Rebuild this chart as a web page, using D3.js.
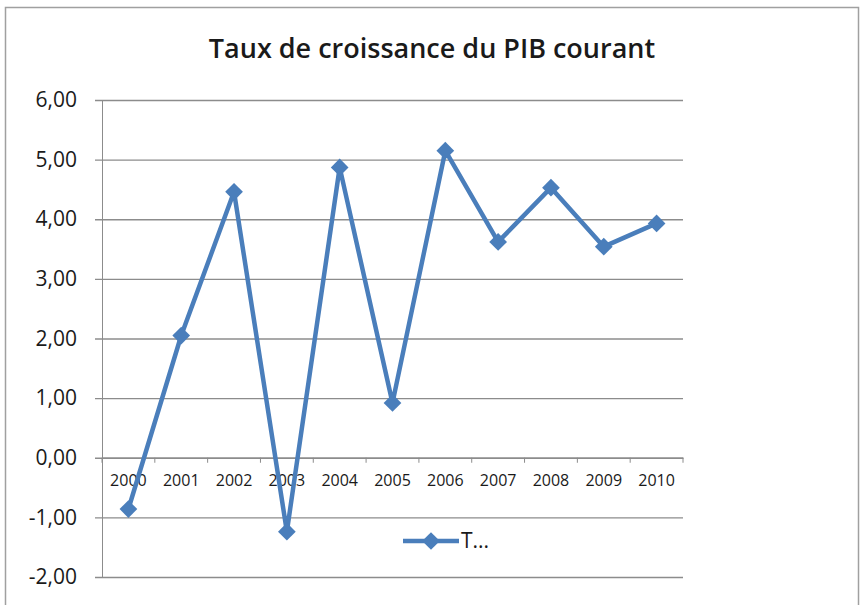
<!DOCTYPE html>
<html>
<head>
<meta charset="utf-8">
<script src="https://cdn.jsdelivr.net/npm/d3@7"></script>
<style>
  body { margin: 0; background: #fff; }
  text { font-family: "Open Sans", sans-serif; fill: #1a1a1a; }
</style>
</head>
<body>
<svg></svg>
<script>
var years = ['2000', '2001', '2002', '2003', '2004', '2005', '2006', '2007', '2008', '2009', '2010'];
var taux = [-0.86, 2.05, 4.46, -1.24, 4.87, 0.92, 5.15, 3.62, 4.53, 3.54, 3.93];
var yTicks = [-2, -1, 0, 1, 2, 3, 4, 5, 6];
var title = 'Taux de croissance du PIB courant';
var legendLabel = 'T...';

function drawLineChart() {
    var size = { w: 861, h: 605 };
    var plot = { left: 102, right: 683, top: 100, bottom: 577 };
    var blue = '#4a7ebb';

    var svg = d3.select('svg')
        .attr('width', size.w)
        .attr('height', size.h);

    // chart frame
    svg.append('rect')
        .attr('x', 5.5).attr('y', 7.5)
        .attr('width', 853).attr('height', 600)
        .attr('fill', '#fff')
        .attr('stroke', '#a0a0a0')
        .attr('stroke-width', 1.5);

    svg.append('text')
        .attr('x', 432).attr('y', 58)
        .attr('text-anchor', 'middle')
        .style('font-size', '27px')
        .style('font-weight', '600')
        .text(title);

    var x = d3.scaleBand().domain(years).range([plot.left, plot.right]);
    var y = d3.scaleLinear().domain([-2, 6]).range([plot.bottom, plot.top]);

    // gridlines + y labels
    var yAxis = d3.axisLeft(y)
        .tickValues(yTicks)
        .tickSize(-(plot.right - plot.left))
        .tickPadding(25)
        .tickFormat(d => d3.format('.2f')(d).replace('.', ',').replace('\u2212', '-'));

    var gy = svg.append('g')
        .attr('transform', `translate(${plot.left},0)`)
        .call(yAxis);
    gy.select('.domain').attr('stroke', '#8c8c8c');
    gy.selectAll('.tick line')
        .attr('x1', -7)
        .attr('stroke', '#8c8c8c')
        .attr('stroke-width', 1.3);
    gy.selectAll('.tick text')
        .style('font-size', '21px')
        .style('font-family', '"Open Sans", sans-serif')
        .attr('fill', '#1a1a1a');

    // category axis at 0
    var xAxis = d3.axisBottom(x)
        .tickSize(0)
        .tickPadding(17);
    var gx = svg.append('g')
        .attr('transform', `translate(0,${y(0)})`)
        .call(xAxis);
    gx.select('.domain').attr('stroke', '#8c8c8c').attr('stroke-width', 1.3);
    gx.selectAll('.tick text')
        .style('font-size', '16px')
        .style('font-family', '"Open Sans", sans-serif')
        .attr('fill', '#1a1a1a');

    gx.selectAll('line.cat')
        .data(years.concat(['end']))
        .enter()
        .append('line')
        .attr('class', 'cat')
        .attr('x1', (d, i) => plot.left + i * x.bandwidth())
        .attr('x2', (d, i) => plot.left + i * x.bandwidth())
        .attr('y1', 0).attr('y2', 5)
        .attr('stroke', '#8c8c8c');

    var line = d3.line()
        .x((d, i) => x(years[i]) + x.bandwidth() / 2)
        .y(d => y(d));

    svg.append('path')
        .datum(taux)
        .attr('d', line)
        .attr('fill', 'none')
        .attr('stroke', blue)
        .attr('stroke-width', 4.5)
        .attr('stroke-linejoin', 'round');

    var diamond = d3.symbol().type(d3.symbolDiamond2).size(200);

    svg.selectAll('path.pt')
        .data(taux)
        .enter()
        .append('path')
        .attr('class', 'pt')
        .attr('d', diamond)
        .attr('transform', (d, i) => `translate(${x(years[i]) + x.bandwidth() / 2},${y(d)})`)
        .attr('fill', blue);

    // legend
    var lg = svg.append('g').attr('transform', 'translate(403,541)');
    lg.append('line')
        .attr('x1', 0).attr('x2', 56)
        .attr('stroke', blue).attr('stroke-width', 4.5);
    lg.append('path')
        .attr('d', diamond)
        .attr('transform', 'translate(28,0)')
        .attr('fill', blue);
    lg.append('text')
        .attr('x', 58).attr('y', 7)
        .style('font-size', '21px')
        .text(legendLabel);
}

drawLineChart();
</script>
</body>
</html>
